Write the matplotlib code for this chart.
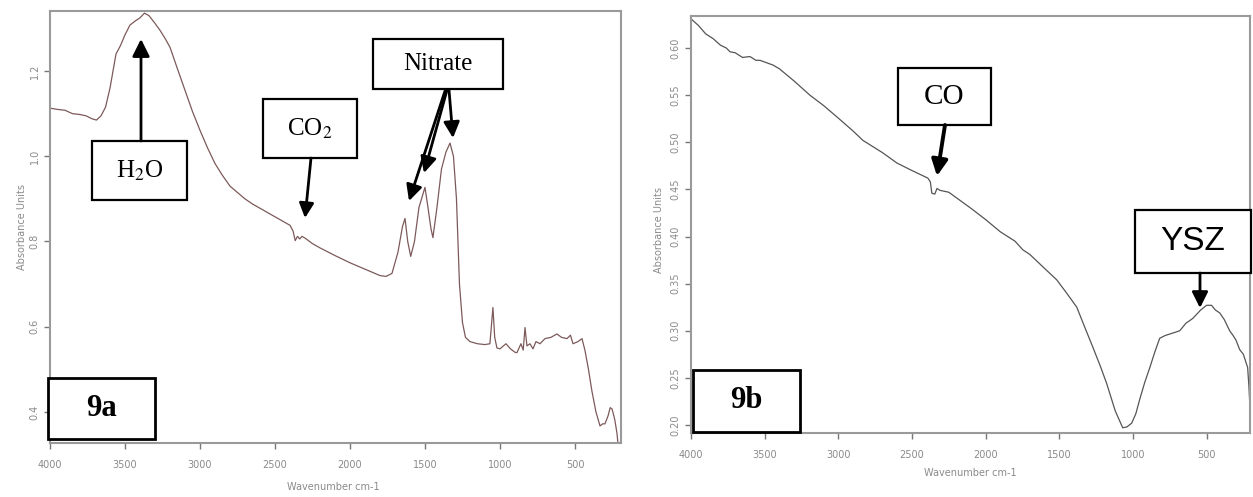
import matplotlib
matplotlib.use("Agg")
import matplotlib.pyplot as plt
from matplotlib.patches import Rectangle

# ---------------- data ----------------
wn_a = [4000, 3950, 3900, 3850, 3800, 3760, 3720, 3690, 3660, 3630, 3600, 3560, 3530,
        3500, 3467, 3430, 3400, 3370, 3340, 3300, 3267, 3230, 3200, 3150, 3100, 3050,
        3000, 2950, 2900, 2850, 2800, 2767, 2700, 2650, 2600, 2550, 2500, 2450, 2400,
        2380, 2365, 2350, 2335, 2320, 2300, 2250, 2200, 2100, 2000, 1900, 1800, 1760,
        1720, 1680, 1650, 1633, 1615, 1595, 1570, 1540, 1500, 1480, 1460, 1447, 1420,
        1390, 1360, 1333, 1310, 1290, 1270, 1250, 1230, 1200, 1150, 1100, 1067, 1047,
        1035, 1020, 1000, 960, 930, 900, 887, 860, 845, 833, 820, 800, 780, 760, 733,
        700, 660, 620, 590, 553, 530, 513, 480, 453, 433, 410, 387, 360, 333, 315, 300,
        280, 265, 253, 240, 233, 220, 213, 195]
abs_a = [1.113, 1.110, 1.108, 1.100, 1.098, 1.095, 1.088, 1.085, 1.095, 1.115, 1.160,
         1.240, 1.260, 1.285, 1.308, 1.318, 1.325, 1.336, 1.330, 1.312, 1.296, 1.275,
         1.256, 1.205, 1.155, 1.105, 1.061, 1.020, 0.983, 0.955, 0.930, 0.920, 0.900,
         0.888, 0.878, 0.868, 0.858, 0.848, 0.838, 0.825, 0.802, 0.812, 0.806, 0.812,
         0.808, 0.795, 0.785, 0.767, 0.750, 0.735, 0.720, 0.718, 0.725, 0.775, 0.835,
         0.854, 0.800, 0.765, 0.800, 0.880, 0.927, 0.880, 0.830, 0.809, 0.880, 0.970,
         1.010, 1.031, 1.000, 0.900, 0.700, 0.610, 0.575, 0.565, 0.560, 0.558, 0.560,
         0.645, 0.575, 0.550, 0.548, 0.560, 0.548, 0.540, 0.539, 0.560, 0.545, 0.598,
         0.555, 0.560, 0.548, 0.565, 0.560, 0.572, 0.575, 0.583, 0.575, 0.572, 0.580,
         0.560, 0.565, 0.572, 0.544, 0.500, 0.449, 0.400, 0.367, 0.372, 0.372, 0.390,
         0.410, 0.407, 0.390, 0.379, 0.350, 0.325, 0.330]

wn_b = [4000, 3950, 3900, 3850, 3800, 3760, 3735, 3700, 3650, 3600, 3560, 3532, 3480,
        3444, 3400, 3300, 3193, 3100, 3010, 2900, 2833, 2700, 2602, 2500, 2392, 2375,
        2365, 2345, 2330, 2310, 2250, 2100, 2000, 1900, 1800, 1748, 1700, 1585, 1517,
        1450, 1381, 1330, 1273, 1220, 1178, 1120, 1069, 1040, 1008, 980, 954, 920, 885,
        850, 818, 780, 720, 682, 640, 594, 540, 500, 466, 440, 411, 380, 343, 320, 300,
        275, 250, 221, 212, 208]
abs_b = [0.631, 0.624, 0.615, 0.610, 0.603, 0.600, 0.596, 0.595, 0.590, 0.591, 0.587,
         0.587, 0.584, 0.582, 0.578, 0.565, 0.550, 0.539, 0.527, 0.512, 0.502, 0.489,
         0.478, 0.470, 0.462, 0.458, 0.446, 0.445, 0.451, 0.449, 0.447, 0.430, 0.418,
         0.405, 0.395, 0.386, 0.381, 0.364, 0.354, 0.340, 0.325, 0.305, 0.283, 0.262,
         0.244, 0.215, 0.197, 0.198, 0.202, 0.212, 0.227, 0.245, 0.261, 0.278, 0.292,
         0.295, 0.298, 0.300, 0.308, 0.313, 0.322, 0.327, 0.327, 0.322, 0.319, 0.312,
         0.300, 0.295, 0.290, 0.280, 0.275, 0.261, 0.240, 0.227]

xticks = [4000, 3500, 3000, 2500, 2000, 1500, 1000, 500]
yticks_a = [0.4, 0.6, 0.8, 1.0, 1.2]
yticks_b = [0.20, 0.25, 0.30, 0.35, 0.40, 0.45, 0.50, 0.55, 0.60]
xlabel = "Wavenumber cm-1"
ylabel = "Absorbance Units"

# ---------------- figure ----------------
W, H = 1253, 497
fig = plt.figure(figsize=(W / 100, H / 100), dpi=100)
plt.rcParams['mathtext.fontset'] = 'stix'

GRAY = '#8a8a8a'


def axes_px(l, t, r, b):
    return fig.add_axes([l / W, 1 - b / H, (r - l) / W, (b - t) / H])


def style(ax, yt, yfmt):
    for s in ax.spines.values():
        s.set_color('#9a9a9a')
        s.set_linewidth(1.5)
    ax.set_xticks(xticks)
    ax.set_xticklabels([str(v) for v in xticks])
    ax.set_yticks(yt)
    ax.set_yticklabels([yfmt.format(v) for v in yt], rotation=90, va='center')
    ax.tick_params(direction='out', length=4, width=1, color='#777777',
                   labelcolor=GRAY, labelsize=7)


ax1 = axes_px(50, 11, 621, 443)
ax1.plot(wn_a, abs_a, color='#7d5a5a', lw=0.9)
ax1.set_xlim(4000, 193)
ax1.set_ylim(0.327, 1.341)
style(ax1, yticks_a, "{:.1f}")
ax1.tick_params(axis='x', pad=8)

ax2 = axes_px(691, 16, 1250, 433)
ax2.plot(wn_b, abs_b, color='#555555', lw=0.9)
ax2.set_xlim(4000, 205)
ax2.set_ylim(0.1915, 0.634)
style(ax2, yticks_b, "{:.2f}")
ax2.tick_params(axis='x', pad=8)

# axis labels placed like the reference
fig.text(333 / W, 1 - 487 / H, xlabel, ha='center', va='center', fontsize=7, color=GRAY)
fig.text(22 / W, 1 - 227 / H, ylabel, ha='center', va='center', fontsize=7, color=GRAY,
         rotation=90)
fig.text(970 / W, 1 - 473 / H, xlabel, ha='center', va='center', fontsize=7, color=GRAY)
fig.text(659 / W, 1 - 230 / H, ylabel, ha='center', va='center', fontsize=7, color=GRAY,
         rotation=90)


def box(l, t, r, b, text, size, family='Liberation Serif', weight='normal', lw=1.6):
    fig.add_artist(Rectangle((l / W, 1 - b / H), (r - l) / W, (b - t) / H,
                             transform=fig.transFigure, facecolor='white',
                             edgecolor='black', lw=lw, zorder=5))
    fig.text((l + r) / 2 / W, 1 - (t + b) / 2 / H, text, ha='center', va='center',
             fontsize=size, family=family, weight=weight, zorder=6)


def arrow(x0, y0, x1, y1, ms=22, lw=2.0):
    fig.add_artist(plt.matplotlib.patches.FancyArrowPatch(
        (x0 / W, 1 - y0 / H), (x1 / W, 1 - y1 / H), transform=fig.transFigure,
        arrowstyle='-|>', mutation_scale=ms, lw=lw, color='black', zorder=7,
        shrinkA=0, shrinkB=0))


box(92, 141, 187, 200, r"H$_2$O", 18)
box(263, 99, 357, 158, r"CO$_2$", 18)
box(373, 39, 503, 89, "Nitrate", 18)
box(48, 378, 155, 439, "9a", 22, weight='bold', lw=2)
box(898, 68, 991, 125, "CO", 21)
box(1135, 210, 1251, 273, "YSZ", 24, family='Liberation Sans')
box(693, 370, 800, 432, "9b", 22, weight='bold', lw=2)

arrow(141, 141, 141, 39, ms=26)
arrow(311, 158, 305, 218)
arrow(449, 90, 453, 138, ms=24)
arrow(447, 90, 424, 173, ms=24)
arrow(445, 91, 409, 201, ms=24)
arrow(945, 125, 937, 176, ms=24, lw=2.8)
arrow(1200, 273, 1200, 308, ms=24)

fig.savefig("out.png", dpi=100, facecolor='white')
